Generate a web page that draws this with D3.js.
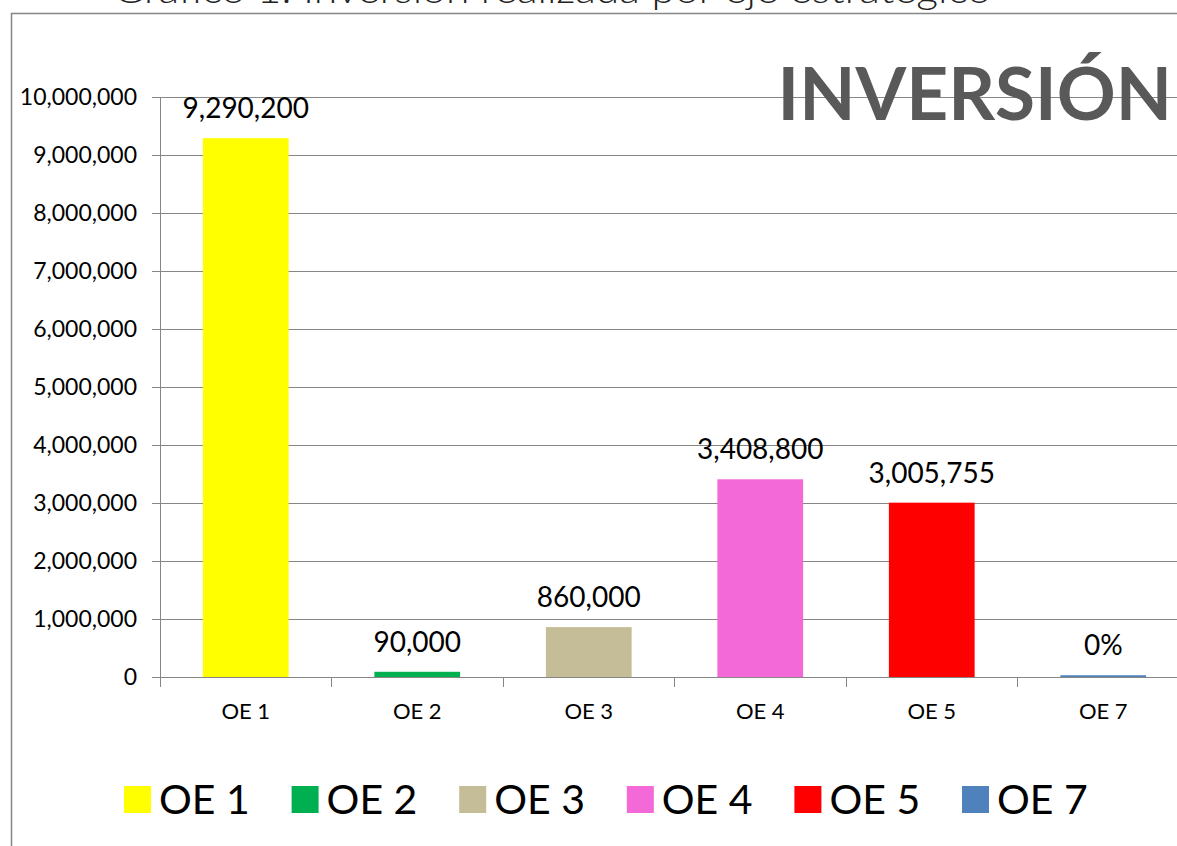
<!DOCTYPE html>
<html>
<head>
<meta charset="utf-8">
<script src="https://cdn.jsdelivr.net/npm/d3@7"></script>
<style>
  html, body { margin: 0; padding: 0; background: #fff; }
  svg { display: block; font-family: Lato, "Open Sans", sans-serif; }
</style>
</head>
<body>
<script>
const W = 1177, H = 846;
const PLOT = { left: 160, top: 97, right: 1189, bottom: 677 };

const CATEGORIES = ['OE 1', 'OE 2', 'OE 3', 'OE 4', 'OE 5', 'OE 7'];
const VALUES = [9290200, 90000, 860000, 3408800, 3005755, 30000];
const VALUE_LABELS = ['9,290,200', '90,000', '860,000', '3,408,800', '3,005,755', '0%'];
const COLORS = ['#FFFF00', '#00B050', '#C4BD97', '#F469D8', '#FF0000', '#4F81BD'];
const Y_TICKS = [0, 1000000, 2000000, 3000000, 4000000, 5000000, 6000000, 7000000, 8000000, 9000000, 10000000];

const GRID = '#868686';

const svg = d3.select('body').append('svg').attr('width', W).attr('height', H);
svg.append('rect').attr('width', W).attr('height', H).attr('fill', '#fff');

// caption above the chart box (cut off at the top, as in the source page)
svg.append('text')
    .attr('x', 113).attr('y', 3)
    .attr('textLength', 878).attr('lengthAdjust', 'spacingAndGlyphs')
    .style('font-size', '38px').style('font-weight', 300)
    .attr('fill', '#222')
    .text('Gráfico 1. Inversión realizada por eje estratégico');

// chart box border
svg.append('rect')
    .attr('x', 11.5).attr('y', 13.5)
    .attr('width', 1300).attr('height', 1000)
    .attr('fill', 'none').attr('stroke', GRID).attr('stroke-width', 1.5);

const x = d3.scaleBand()
    .domain(CATEGORIES)
    .range([PLOT.left, PLOT.right])
    .paddingInner(0.5)
    .paddingOuter(0.25);

const y = d3.scaleLinear()
    .domain([0, 10000000])
    .range([PLOT.bottom, PLOT.top]);

// gridlines
svg.append('g')
    .attr('transform', 'translate(' + PLOT.left + ',0)')
    .call(d3.axisRight(y).tickValues(Y_TICKS).tickSize(PLOT.right - PLOT.left).tickFormat(''))
    .call(g => g.select('.domain').remove())
    .call(g => g.selectAll('line').attr('stroke', GRID).attr('shape-rendering', 'crispEdges'));

// y axis
svg.append('g')
    .attr('transform', 'translate(' + PLOT.left + ',0)')
    .call(d3.axisLeft(y).tickValues(Y_TICKS).tickSize(8).tickSizeOuter(0).tickPadding(15).tickFormat(d3.format(',')))
    .call(g => g.select('.domain').attr('stroke', GRID))
    .call(g => g.selectAll('line').attr('stroke', GRID).attr('shape-rendering', 'crispEdges'))
    .call(g => g.selectAll('text').style('font-size', '23px').attr('fill', '#000').attr('font-family', 'Lato'));

// bars
svg.append('g').selectAll('rect')
    .data(CATEGORIES)
    .enter()
    .append('rect')
    .attr('x', d => x(d))
    .attr('width', x.bandwidth())
    .attr('y', (d, i) => y(VALUES[i]))
    .attr('height', (d, i) => y(0) - y(VALUES[i]))
    .attr('fill', (d, i) => COLORS[i]);

// x axis: labels centred, ticks on category boundaries
const boundaries = d3.range(CATEGORIES.length + 1).map(i => PLOT.left + i * x.step());
svg.append('g')
    .attr('transform', 'translate(0,' + PLOT.bottom + ')')
    .call(d3.axisBottom(x).tickSize(0).tickPadding(26))
    .call(g => g.select('.domain').attr('stroke', GRID).attr('shape-rendering', 'crispEdges'))
    .call(g => g.selectAll('text').style('font-size', '22px').attr('fill', '#000').attr('font-family', 'Lato'))
    .call(g => g.selectAll('.bound').data(boundaries).enter().append('line')
        .attr('class', 'bound')
        .attr('x1', d => d).attr('x2', d => d)
        .attr('y1', 0).attr('y2', 10)
        .attr('stroke', GRID).attr('shape-rendering', 'crispEdges'));

// value labels
svg.append('g').selectAll('text')
    .data(CATEGORIES)
    .enter()
    .append('text')
    .attr('x', d => x(d) + x.bandwidth() / 2)
    .attr('y', (d, i) => y(VALUES[i]) - 20)
    .attr('text-anchor', 'middle')
    .style('font-size', '28px')
    .attr('fill', '#000')
    .text((d, i) => VALUE_LABELS[i]);

// big title
svg.append('text')
    .attr('x', 1172).attr('y', 120)
    .attr('text-anchor', 'end')
    .style('font-size', '73px').style('font-weight', 'bold')
    .attr('fill', '#595959')
    .text('INVERSIÓN');

// legend
const lx = d3.scaleBand().domain(CATEGORIES).range([124, 124 + 6 * 167.6]);
const legend = svg.append('g').selectAll('g')
    .data(CATEGORIES)
    .enter()
    .append('g')
    .attr('transform', d => 'translate(' + lx(d) + ',786)');
legend.append('rect')
    .attr('width', 27).attr('height', 27)
    .attr('fill', (d, i) => COLORS[i]);
legend.append('text')
    .attr('x', 35).attr('y', 28)
    .style('font-size', '41px')
    .attr('fill', '#000')
    .text(d => d);
</script>
</body>
</html>
